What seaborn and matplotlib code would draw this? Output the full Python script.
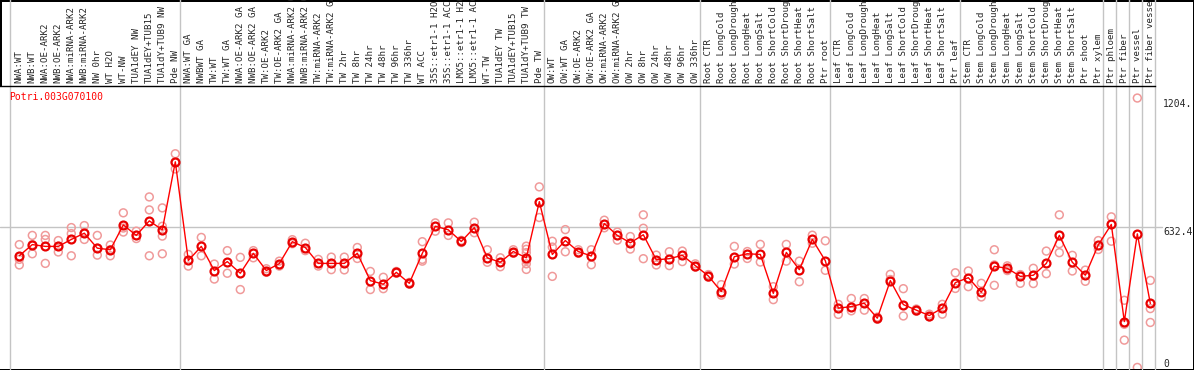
import pandas as pd
import matplotlib
matplotlib.use('Agg')
import matplotlib.pyplot as plt
import matplotlib.transforms as mtransforms
import seaborn as sns

# Chart data
gene = "Potri.003G070100"

labels = [
    "NWA:WT", "NWB:WT", "NWA:OE-ARK2", "NWB:OE-ARK2", "NWA:miRNA-ARK2", "NWB:miRNA-ARK2",
    "NW 0hr", "WT H2O", "WT-NW", "TUA1dEY NW", "TUA1dEY+TUB15", "TUA1dY+TUB9 NW", "Pde NW",
    "NWA:WT GA", "NWBWT GA", "TW:WT", "TW:WT GA", "NWA:OE-ARK2 GA", "NWB:OE-ARK2 GA",
    "TW:OE-ARK2", "TW:OE-ARK2 GA", "NWA:miRNA-ARK2 GA", "NWB:miRNA-ARK2 GA", "TW:miRNA-ARK2",
    "TW:miRNA-ARK2 GA", "TW 2hr", "TW 8hr", "TW 24hr", "TW 48hr", "TW 96hr", "TW 336hr",
    "WT ACC", "35S::etr1-1 H2O", "35S::etr1-1 ACC", "LMX5::etr1-1 H2O", "LMX5::etr1-1 ACC",
    "WT-TW", "TUA1dEY TW", "TUA1dEY+TUB15", "TUA1dY+TUB9 TW", "Pde TW",
    "OW:WT", "OW:WT GA", "OW:OE-ARK2", "OW:OE-ARK2 GA", "OW:miRNA-ARK2", "OW:miRNA-ARK2 GA",
    "OW 2hr", "OW 8hr", "OW 24hr", "OW 48hr", "OW 96hr", "OW 336hr",
    "Root CTR", "Root LongCold", "Root LongDrought", "Root LongHeat", "Root LongSalt",
    "Root ShortCold", "Root ShortDrought", "Root ShortHeat", "Root ShortSalt", "Ptr root",
    "Leaf CTR", "Leaf LongCold", "Leaf LongDrought", "Leaf LongHeat", "Leaf LongSalt",
    "Leaf ShortCold", "Leaf ShortDrought", "Leaf ShortHeat", "Leaf ShortSalt", "Ptr leaf",
    "Stem CTR", "Stem LongCold", "Stem LongDrought", "Stem LongHeat", "Stem LongSalt",
    "Stem ShortCold", "Stem ShortDrought", "Stem ShortHeat", "Stem ShortSalt", "Ptr shoot",
    "Ptr xylem", "Ptr phloem", "Ptr fiber", "Ptr vessel", "Ptr fiber vessel",
]

means = [
    506, 556, 548, 548, 579, 607, 540, 533, 644, 597, 662, 622, 926,
    485, 548, 440, 480, 428, 517, 440, 471, 569, 543, 472, 472, 472, 517, 395, 379,
    432, 383, 517, 638, 622, 570, 632, 497, 477, 525, 497, 748,
    512, 574, 525, 505, 650, 597, 564, 600, 488, 493, 508, 462,
    416, 346, 502, 515, 512, 338, 521, 444, 579, 484,
    272, 279, 294, 227, 395, 288, 263, 239, 272, 386,
    408, 343, 459, 450, 414, 419, 472, 597, 477, 419, 555,
    646, 212, 604, 293,
]

reps = [
    [556, 490, 465], [597, 515, 556], [597, 579, 472], [574, 523, 548], [632, 605, 506],
    [641, 579, 607], [597, 509, 540], [554, 506, 533], [698, 612, 630], [616, 583, 597],
    [769, 711, 506], [720, 638, 594, 515], [962, 894, 926],
    [512, 460], [588, 506], [469, 402], [529, 428], [499, 355], [529, 497], [432, 448],
    [460, 482], [560, 578], [562, 529], [490, 460], [500, 444], [500, 443], [543, 494],
    [436, 355], [410, 359], [436, 428], [387, 379], [569, 490, 482], [653, 616],
    [653, 597], [575, 565], [656, 609], [533, 477], [497, 457], [533, 517],
    [549, 535, 520, 485, 470, 445], [814, 677],
    [571, 545, 414], [623, 524], [533, 517], [533, 466], [665, 631], [612, 576],
    [592, 536], [689, 629, 493], [509, 465], [524, 462], [527, 480], [470, 455],
    [422, 410], [377, 330], [548, 469], [525, 494], [557, 478], [368, 310], [557, 482],
    [482, 390], [598, 562], [573, 441],
    [289, 244], [315, 260], [315, 263], [232, 222], [423, 400], [359, 237], [268, 258],
    [245, 233], [289, 245], [430, 360],
    [438, 368], [383, 322], [533, 465, 374], [461, 440], [422, 383], [450, 382],
    [527, 426], [689, 560, 520], [508, 438], [442, 392], [574, 534],
    [680, 571], [307, 200, 129], [1211, 7], [396, 270, 208],
]

# last sample of each group (grey separators drawn right after them)
group_ends = [12, 40, 52, 62, 72, 83, 84, 85, 86, 87]
y_mid = 632.4
y_top_label = 1204.8

df_means = pd.DataFrame({"idx": range(len(means)), "expr": means})
df_reps = pd.DataFrame(
    [(i, v) for i, vals in enumerate(reps) for v in vals], columns=["idx", "expr"]
)

sns.set_style("white")
plt.rcParams["font.family"] = ["DejaVu Sans Mono"]

fig = plt.figure(figsize=(11.94, 3.70), dpi=100)
fig.patch.set_edgecolor("black")
fig.patch.set_linewidth(2)
ax = fig.add_axes([0, 1 / 370, 1155 / 1194, 283 / 370])

grey = "#c4c4c4"
# group separators, running up through the label strip
ax.axvline(-0.72, color=grey, lw=1, ymax=1.31, clip_on=False, zorder=1)
for e in group_ends:
    ax.axvline(e + 0.36, color=grey, lw=1, ymax=1.31, clip_on=False, zorder=1)
ax.axhline(y_mid, color=grey, lw=1, xmax=1.006, clip_on=False, zorder=1)

# replicates
sns.scatterplot(data=df_reps, x="idx", y="expr", marker="o", s=32,
                facecolors="none", edgecolor="#f09a9a", linewidth=1.1,
                ax=ax, zorder=2, legend=False)
# means
sns.lineplot(data=df_means, x="idx", y="expr", estimator=None, color="red", lw=1,
             marker="o", ms=5.7, mfc="none", mec="#e80000", mew=1.6, ax=ax, zorder=3)

ax.set_xlim(-1.485, 87.36)
ax.set_ylim(0, 2 * y_mid)
ax.set_xticks([])
ax.set_yticks([])
ax.set_xlabel("")
ax.set_ylabel("")
for s in ["left", "right", "bottom"]:
    ax.spines[s].set_visible(False)
ax.spines["top"].set_color("black")
ax.spines["top"].set_linewidth(1)

# sample labels above the plot
trans_x = mtransforms.blended_transform_factory(ax.transData, ax.transAxes)
for i, lab in enumerate(labels):
    ax.text(i, 1 + 3 / 283, lab, rotation=90, ha="center", va="bottom",
            fontsize=6.6, transform=trans_x, clip_on=False)

# right-hand value labels
trans_y = mtransforms.blended_transform_factory(ax.transAxes, ax.transData)
ax.text(1.007, y_top_label, "1204.", ha="left", va="top", fontsize=7,
        transform=trans_y, clip_on=False)
ax.text(1.007, y_mid, "632.4", ha="left", va="top", fontsize=7,
        transform=trans_y, clip_on=False)
ax.text(1.007, 0, "0", ha="left", va="bottom", fontsize=7,
        transform=trans_y, clip_on=False)

ax.text(0.0083, 0.979, gene, color="red", fontsize=7, ha="left", va="top",
        transform=ax.transAxes)

fig.savefig("out.png", dpi=100)
